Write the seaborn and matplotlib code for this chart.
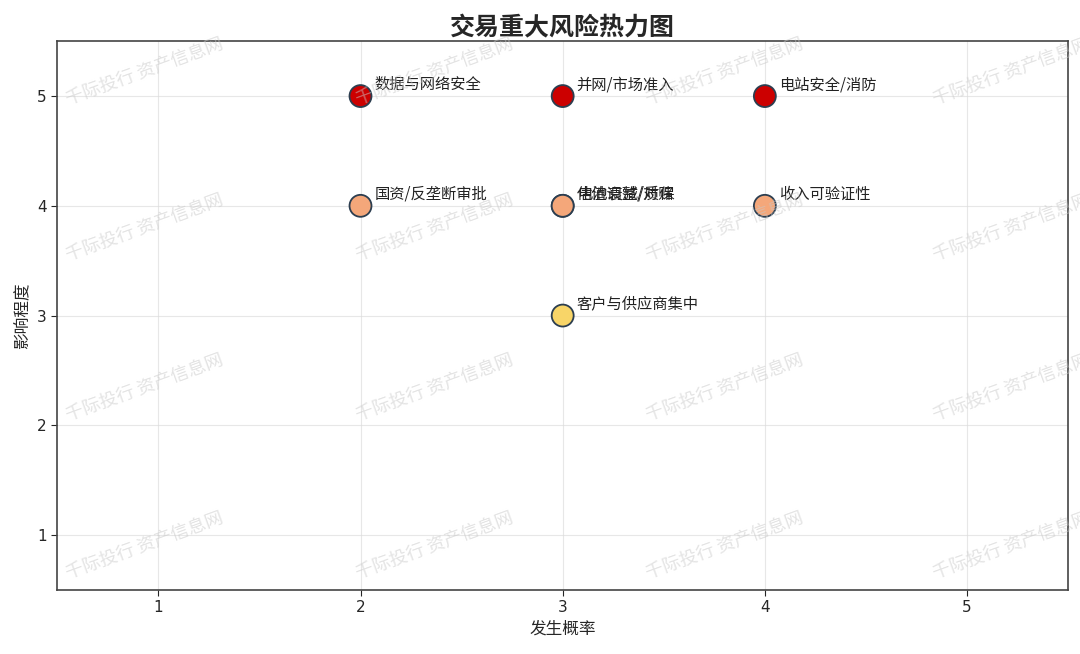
import matplotlib
matplotlib.use("Agg")
import matplotlib.pyplot as plt
import seaborn as sns
import pandas as pd

# ------- data -------
risk_names = ["数据与网络安全", "并网/市场准入", "电站安全/消防",
              "国资/反垄断审批", "电池衰减/质保", "估值调整/对赌",
              "收入可验证性", "客户与供应商集中"]
probability = [2, 3, 4, 2, 3, 3, 4, 3]
impact = [5, 5, 5, 4, 4, 4, 4, 3]
level = ["高", "高", "高", "中", "中", "中", "中", "低"]
tick_values = [1, 2, 3, 4, 5]

level_colors = {"高": "#cc0000", "中": "#f4a77a", "低": "#f8d568"}

df = pd.DataFrame({"名称": risk_names, "发生概率": probability,
                   "影响程度": impact, "等级": level})

sns.set_style("white")
plt.rcParams['font.family'] = ['Noto Sans CJK SC', 'DejaVu Sans']
plt.rcParams['axes.unicode_minus'] = False

fig, ax = plt.subplots(figsize=(10.8, 6.54), dpi=100)
fig.subplots_adjust(left=0.053, right=0.989, top=0.937, bottom=0.098)

sns.scatterplot(data=df, x="发生概率", y="影响程度", hue="等级",
                palette=level_colors, s=250, edgecolor="#2c3e50",
                linewidth=1.3, legend=False, zorder=3, ax=ax)

for name, x, y in zip(risk_names, probability, impact):
    ax.annotate(name, (x, y), xytext=(10, 5), textcoords="offset points",
                fontsize=11, color="#222222", zorder=4)

ax.set_xlim(0.5, 5.5)
ax.set_ylim(0.5, 5.5)
ax.set_xticks(tick_values)
ax.set_yticks(tick_values)
ax.set_xticklabels([str(v) for v in tick_values], family="DejaVu Sans")
ax.set_yticklabels([str(v) for v in tick_values], family="DejaVu Sans")
ax.tick_params(axis="both", labelsize=11, length=4, direction="out",
               left=True, bottom=True)
ax.grid(True, color="#dddddd", linewidth=0.8, alpha=0.7)
ax.set_axisbelow(True)
for sp in ax.spines.values():
    sp.set_color("#444444")
    sp.set_linewidth(1.2)

ax.set_xlabel("发生概率", fontsize=12)
ax.set_ylabel("影响程度", fontsize=12)
ax.set_title("交易重大风险热力图", fontsize=18, fontweight="bold", pad=4)

# watermark
for wx in [145, 435, 725, 1012]:
    for wy in [72, 228, 388, 546]:
        fig.text(wx / 1080, 1 - wy / 654, "千际投行 资产信息网", fontsize=13,
                 color="#c8c8c8", alpha=0.5, rotation=20,
                 ha="center", va="center", zorder=10)

fig.savefig("out.png", dpi=100)
